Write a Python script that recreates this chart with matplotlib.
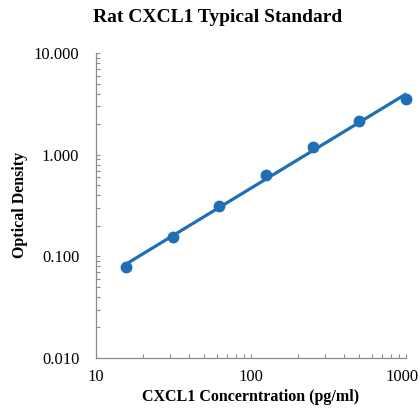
import numpy as np
import matplotlib
matplotlib.use("Agg")
import matplotlib.pyplot as plt
import matplotlib.transforms as mtransforms
from matplotlib.ticker import FixedLocator, FixedFormatter, LogLocator, NullFormatter

plt.rcParams["font.family"] = ["Liberation Serif", "DejaVu Serif"]

# standard curve points
conc = [15.6, 31.25, 62.5, 125, 250, 500, 1000]
od = [0.078, 0.155, 0.315, 0.627, 1.20, 2.14, 3.50]

x_ticks = [10, 100, 1000]
x_labels = ["10", "100", "1000"]
y_ticks = [0.01, 0.1, 1, 10]
y_labels = ["0.010", "0.100", "1.000", "10.000"]

BLUE = "#1f6fb5"
SPINE = "#8c8c8c"

fig = plt.figure(figsize=(4.2, 4.09), dpi=100, facecolor="white")
ax = fig.add_axes([0.2286, 0.1247, 0.967 - 0.2286, 0.870 - 0.1247])

# power fit in log-log space, drawn between the first and last standard
lx, ly = np.log10(conc), np.log10(od)
k, b = np.polyfit(lx, ly, 1)
xf = np.array([conc[0], conc[-1]])
ax.plot(xf, 10 ** (k * np.log10(xf) + b), color=BLUE, lw=2.3, zorder=2)
ax.plot(conc, od, "o", color=BLUE, markersize=7.5, zorder=3, clip_on=False)

ax.set_xscale("log")
ax.set_yscale("log")
ax.set_xlim(10, 1000)
ax.set_ylim(0.01, 10)

ax.xaxis.set_major_locator(FixedLocator(x_ticks))
ax.xaxis.set_major_formatter(FixedFormatter(x_labels))
ax.yaxis.set_major_locator(FixedLocator(y_ticks))
ax.yaxis.set_major_formatter(FixedFormatter(y_labels))
ax.xaxis.set_minor_locator(LogLocator(base=10, subs=np.arange(2, 10)))
ax.yaxis.set_minor_locator(LogLocator(base=10, subs=np.arange(2, 10)))
ax.xaxis.set_minor_formatter(NullFormatter())
ax.yaxis.set_minor_formatter(NullFormatter())

ax.tick_params(which="both", direction="in", color=SPINE, labelsize=12,
               width=0.8, length=3)
ax.tick_params(axis="y", which="major", pad=12)
ax.tick_params(axis="x", which="major", pad=8)

# the last x label sits on the figure edge: nudge it a little left
last = ax.get_xticklabels()[-1]
last.set_transform(last.get_transform() +
                   mtransforms.ScaledTranslation(-4 / 100, 0, fig.dpi_scale_trans))

for s in ["top", "right"]:
    ax.spines[s].set_visible(False)
for s in ["left", "bottom"]:
    ax.spines[s].set_color(SPINE)
    ax.spines[s].set_linewidth(0.9)

fig.text(0.517, 1 - 18 / 409, "Rat CXCL1 Typical Standard", fontsize=14,
         fontweight="bold", ha="center", va="center")
fig.text(0.597, 1 - 397 / 409, "CXCL1 Concerntration (pg/ml)", fontsize=11.5,
         fontweight="bold", ha="center", va="center")
fig.text(20 / 420, 1 - 205 / 409, "Optical Density", fontsize=11.5,
         fontweight="bold", ha="center", va="center", rotation=90)

fig.savefig("out.png", dpi=100, facecolor="white")
